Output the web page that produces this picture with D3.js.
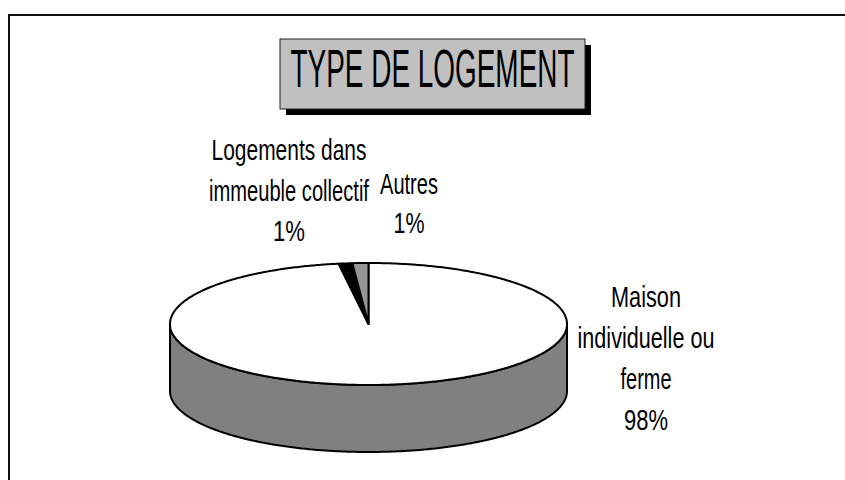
<!DOCTYPE html>
<html>
<head>
<meta charset="utf-8">
<script src="https://cdn.jsdelivr.net/npm/d3@7"></script>
<style>
  html, body { margin: 0; padding: 0; background: #fff; }
  svg { display: block; }
  text { font-family: "Liberation Sans Narrow", "Arial Narrow", "Liberation Sans", Arial, sans-serif; fill: #000; }
</style>
</head>
<body>
<script>
// ---- data ----
const title = "TYPE DE LOGEMENT";
const categories = ["Maison individuelle ou ferme", "Logements dans immeuble collectif", "Autres"];
const values = [97.6, 1.1, 1.3];
const percentLabels = ["98%", "1%", "1%"];
const labelLines = [
  ["Maison", "individuelle ou", "ferme"],
  ["Logements dans", "immeuble collectif"],
  ["Autres"]
];
const topColors = ["#ffffff", "#000000", "#969696"];
const sideColors = ["#808080", "#000000", "#6e6e6e"];

// ---- layout ----
const W = 845, H = 480;
const svg = d3.select("body").append("svg").attr("width", W).attr("height", H);

// draws a centred text line squeezed horizontally to a given width
function fitText(parent, str, x, y, size, width) {
  const t = parent.append("text")
    .attr("text-anchor", "middle").attr("font-size", size)
    .text(str);
  const natural = t.node().getComputedTextLength();
  const k = Math.min(1, width / natural);
  t.attr("transform", `translate(${x},${y}) scale(${k},1)`);
  return t;
}

// frame
svg.append("path")
  .attr("d", `M9,${H + 5} L9,15 L${W + 5},15`)
  .attr("fill", "none").attr("stroke", "#111").attr("stroke-width", 2);

// title box with shadow
const tb = { x: 280, y: 39, w: 305, h: 70 };
svg.append("rect").attr("x", tb.x + 6).attr("y", tb.y + 6).attr("width", tb.w).attr("height", tb.h).attr("fill", "#000");
svg.append("rect").attr("x", tb.x).attr("y", tb.y).attr("width", tb.w).attr("height", tb.h)
  .attr("fill", "#c0c0c0").attr("stroke", "#222").attr("stroke-width", 1);
fitText(svg, title, tb.x + tb.w / 2, 87, 53, 284);

// 3D pie
const cx = 368.5, cy = 324, rx = 198.5, ry = 61, depth = 67;
const pie = d3.pie().sort(null).startAngle(0).endAngle(2 * Math.PI);
const arcs = pie(values);

const px = a => cx + rx * Math.sin(a);
const py = a => cy - ry * Math.cos(a);

function arcPoints(a0, a1, dy) {
  const n = Math.max(2, Math.ceil(Math.abs(a1 - a0) / 0.01));
  const pts = [];
  for (let i = 0; i <= n; i++) {
    const a = a0 + (a1 - a0) * i / n;
    pts.push([px(a), py(a) + dy]);
  }
  return pts;
}

const line = d3.line();

// side faces (front half: angles between PI/2 and 3PI/2)
const sideG = svg.append("g");
arcs.forEach((d, i) => {
  const s = Math.max(d.startAngle, Math.PI / 2);
  const e = Math.min(d.endAngle, 3 * Math.PI / 2);
  if (e <= s) return;
  const pts = arcPoints(s, e, 0).concat(arcPoints(e, s, depth));
  sideG.append("path")
    .attr("d", line(pts) + "Z")
    .attr("fill", sideColors[i])
    .attr("stroke", "#000").attr("stroke-width", 2).attr("stroke-linejoin", "round");
});

// top faces
const topG = svg.append("g");
arcs.forEach((d, i) => {
  const pts = [[cx, cy]].concat(arcPoints(d.startAngle, d.endAngle, 0));
  topG.append("path")
    .attr("d", line(pts) + "Z")
    .attr("fill", topColors[i])
    .attr("stroke", "#000").attr("stroke-width", 2).attr("stroke-linejoin", "round");
});

// labels
const fs = 29;
const labelPos = [
  { x: 646, y: 307, step: 41, widths: [70, 137, 51, 44] },
  { x: 289, y: 160, step: 40.5, widths: [155, 160, 32] },
  { x: 409, y: 194, step: 39, widths: [58, 31] }
];
arcs.forEach((d, i) => {
  const p = labelPos[i];
  const lines = labelLines[i].concat([percentLabels[i]]);
  const g = svg.append("g");
  lines.forEach((t, k) => {
    fitText(g, t, p.x, p.y + k * p.step, fs, p.widths[k]);
  });
});
</script>
</body>
</html>
